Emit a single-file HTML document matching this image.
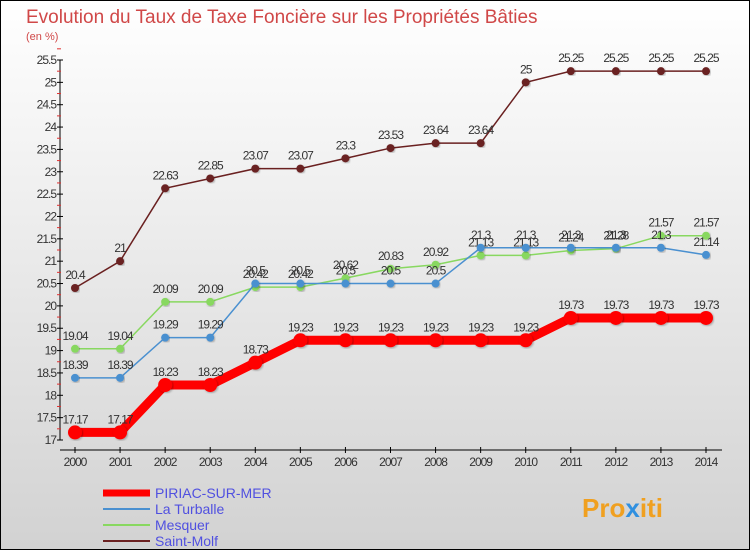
<!DOCTYPE html>
<html><head><meta charset="utf-8"><style>
body{margin:0}
#c{width:750px;height:550px;position:relative;overflow:hidden;font-family:"Liberation Sans",sans-serif}
</style></head><body>
<div id="c">
<svg id="s" width="750" height="550" xmlns="http://www.w3.org/2000/svg">
<defs><linearGradient id="bg" x1="0" y1="0" x2="0" y2="1"><stop offset="0" stop-color="#ffffff"/><stop offset="1" stop-color="#d2d2d2"/></linearGradient>
<filter id="sh"><feDropShadow dx="1" dy="1" stdDeviation="1" flood-opacity="0.3"/></filter></defs>
<rect x="0.5" y="0.5" width="749" height="549" fill="url(#bg)" stroke="#000"/>
<text x="26" y="23" font-size="19" fill="#d04848">Evolution du Taux de Taxe Foncière sur les Propriétés Bâties</text>
<text x="26" y="40" font-size="11" fill="#d04848">(en %)</text>
<g id="axes"></g><g id="series"></g>
<g>
<line x1="103" y1="493" x2="150" y2="493" stroke="#ff0000" stroke-width="7"/>
<text x="155" y="498" font-size="14" fill="#5050e0">PIRIAC-SUR-MER</text>
<line x1="103" y1="509" x2="150" y2="509" stroke="#4a90d0" stroke-width="2"/>
<text x="155" y="514" font-size="14" fill="#5050e0">La Turballe</text>
<line x1="103" y1="525" x2="150" y2="525" stroke="#88d860" stroke-width="2"/>
<text x="155" y="530" font-size="14" fill="#5050e0">Mesquer</text>
<line x1="103" y1="541" x2="150" y2="541" stroke="#6a2020" stroke-width="2"/>
<text x="155" y="546" font-size="14" fill="#5050e0">Saint-Molf</text>
</g>
<text x="582" y="517" font-size="26" font-weight="bold" fill="#f0a020">Pro<tspan fill="#3090e0">x</tspan>iti</text>
</svg>
</div>
<script>
const years=[2000,2001,2002,2003,2004,2005,2006,2007,2008,2009,2010,2011,2012,2013,2014];
const piriac=[17.17,17.17,18.23,18.23,18.73,19.23,19.23,19.23,19.23,19.23,19.23,19.73,19.73,19.73,19.73];
const turballe=[18.39,18.39,19.29,19.29,20.5,20.5,20.5,20.5,20.5,21.3,21.3,21.3,21.3,21.3,21.14];
const mesquer=[19.04,19.04,20.09,20.09,20.42,20.42,20.62,20.83,20.92,21.13,21.13,21.24,21.28,21.57,21.57];
const saintMolf=[20.4,21,22.63,22.85,23.07,23.07,23.3,23.53,23.64,23.64,25,25.25,25.25,25.25,25.25];
const yTicks=[17,17.5,18,18.5,19,19.5,20,20.5,21,21.5,22,22.5,23,23.5,24,24.5,25,25.5];
const NS="http://www.w3.org/2000/svg";
const X=i=>75+i*(706-75)/14;
const Y=v=>440-(v-17)*(380/8.5);
function mk(t,a,p){const e=document.createElementNS(NS,t);for(const k in a)e.setAttribute(k,a[k]);p.appendChild(e);return e;}
const ax=document.getElementById('axes');
let e=mk('line',{x1:60,y1:60,x2:60,y2:440,stroke:'#000','stroke-width':1},ax);


e=mk('line',{x1:60,y1:450,x2:722,y2:450,stroke:'#000','stroke-width':1},ax);


yTicks.forEach(v=>{
 mk('line',{x1:57,y1:Y(v),x2:63,y2:Y(v),stroke:'#000'},ax);
 mk('line',{x1:57,y1:Y(v+0.25),x2:61,y2:Y(v+0.25),stroke:'#e03030'},ax);
 const t=mk('text',{x:56,y:Y(v)+4,'font-size':12,'text-anchor':'end',fill:'#333','letter-spacing':'-1'},ax);
 t.textContent=v;
 
 
});
years.forEach((y,i)=>{
 mk('line',{x1:X(i),y1:447,x2:X(i),y2:453,stroke:'#000'},ax);
 const t=mk('text',{x:X(i),y:466,'font-size':12,'text-anchor':'middle',fill:'#333','letter-spacing':'-1'},ax);
 t.textContent=y;
 
 
});
const sg=document.getElementById('series');
function draw(vals,color,lw,r,name){
 const g=mk('g',{},sg);
 
 
 const p=mk('polyline',{points:vals.map((v,i)=>X(i)+','+Y(v)).join(' '),fill:'none',stroke:color,'stroke-width':lw},g);
 
 vals.forEach((v,i)=>{
  const c=mk('circle',{cx:X(i),cy:Y(v),r:r,fill:color,filter:'url(#sh)'},g);
  
  
  const t=mk('text',{x:X(i),y:Y(v)-9,'font-size':12,'text-anchor':'middle',fill:'#333','letter-spacing':'-1'},g);
  t.textContent=v;
  
  
 });
}
draw(saintMolf,'#6a2020',1.5,4,'saint-molf');
draw(mesquer,'#88d860',1.5,4,'mesquer');
draw(turballe,'#4a90d0',1.5,4,'la-turballe');
draw(piriac,'#ff0000',9,7,'piriac');
</script>
</body></html>
